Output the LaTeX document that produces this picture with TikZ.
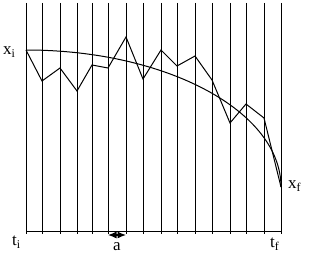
\documentclass[tikz,border=0pt]{standalone}
\usepackage{fontspec}
\setmainfont{Liberation Serif}
\usetikzlibrary{arrows.meta}

\begin{document}
\begin{tikzpicture}[
        x=1pt, y=-1pt,
        gridline/.style={line width=0.9pt},
        zigzag/.style={line width=1pt, line join=miter},
        tag/.style={inner sep=0pt, font=\fontsize{17}{17}\selectfont},
        span/.style={{Latex[length=8.5pt,width=7pt]}-{Latex[length=8.5pt,width=7pt]}, line width=1.2pt}
      ]
      \useasboundingbox (0,0) rectangle (314,259);
      % time slices
      \foreach \k in {26,42,60,77,92,108,126,143,161,177,195,212,230,246,264,281}
        \draw[gridline] (\k,3) -- (\k,234);
      \coordinate (o) at (26,231);
      \coordinate (e) at (281,231);
      \draw[gridline] (o) -- (e);

      \coordinate (start) at (26,50);
      \coordinate (end) at (281,187);
      % classical path
      \draw[zigzag] (start) arc[start angle=90, end angle=0, x radius=255pt, y radius=137pt];
      % sampled path
      \draw[zigzag] plot coordinates {(26,50) (42,81) (60,68) (77,91) (92,65) (108,68)
        (126,37) (143,79) (161,50) (177,66) (195,56) (212,80) (230,123) (246,104)
        (264,118) (281,187)};

      \node[tag, anchor=base west] (xi) at (3,55) {x\textsubscript{i}};
      \node[tag, anchor=base west] (xf) at (288,189) {x\textsubscript{f}};
      \node[tag, anchor=base west] (ti) at (12,246) {t\textsubscript{i}};
      \node[tag, anchor=base west] (tf) at (270,248) {t\textsubscript{f}};
      \node[tag, anchor=base] (a) at (117,251) {a};

      \coordinate (al) at (108,235);
      \coordinate (ar) at (126,235);
      \draw[span] (al) -- (ar);
    \end{tikzpicture}
\end{document}
